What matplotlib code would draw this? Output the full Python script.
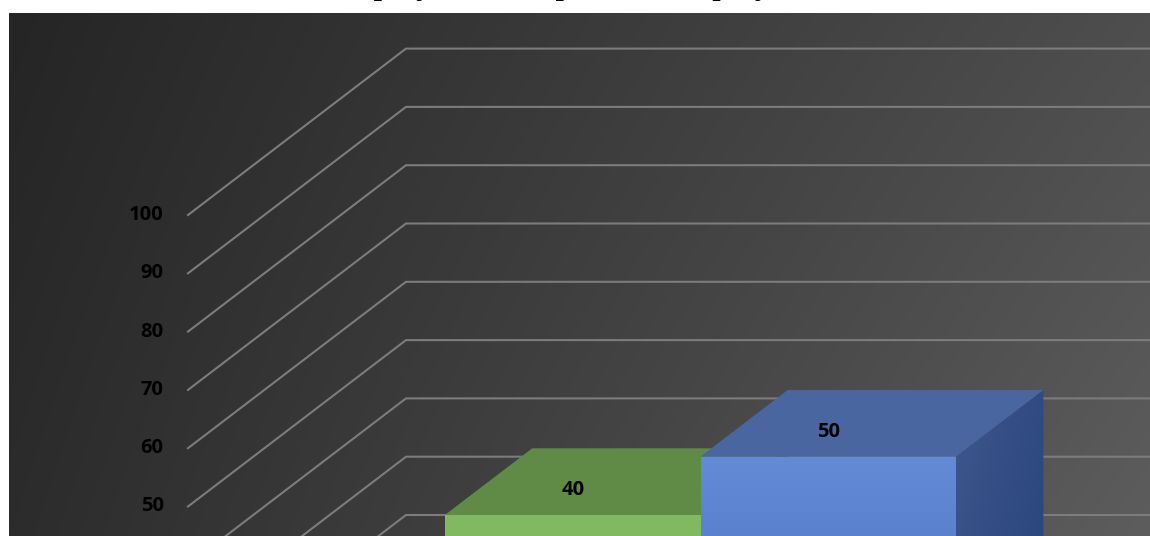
import numpy as np
import matplotlib.pyplot as plt
from matplotlib.patches import Polygon
from matplotlib.colors import to_rgb

# chart data
series = ["Player 1", "Player 2"]
values = [40, 50]
tick_values = list(range(0, 101, 10))
title = "Goals scored: player 1 compared with player 2"

front_colors = ["#80b960", "#5a82cc"]
top_colors = ["#5f8b47", "#4a66a0"]
side_colors = ["#4e7a38", "#34508a"]

W, H = 1150, 536
fig = plt.figure(figsize=(W / 100, H / 100), dpi=100)
fig.patch.set_facecolor("white")

# dark gradient chart area (white strip left and top like the screenshot)
bg = fig.add_axes([9 / W, 0, 1 - 9 / W, (H - 13) / H])
bg.set_axis_off()
yy, xx = np.mgrid[0:1:200j, 0:1:400j]
c = 37 * (1 - xx) * (1 - yy) + 78 * xx * (1 - yy) + 44 * (1 - xx) * yy + 93 * xx * yy
c = c / 255.0
bg.imshow(np.dstack([c, c, c]), aspect="auto", extent=[0, 1, 0, 1], interpolation="bilinear")

# main axes: x in bar widths, y in value units on the front plane
bar_px = 255.5
unit_px = 5.83
wall_x = -1.75          # front edge of side wall (category of 2 bars, gap 150%)
ax = fig.add_axes([0, 0, 1, 1])
ax.set_xlim(wall_x - 188 / bar_px, wall_x + (W - 188) / bar_px)
ax.set_ylim(262 / unit_px, (H + 262) / unit_px)
ax.set_axis_off()
ax.patch.set_alpha(0)

# oblique depth vector (full depth of the floor)
DX = 218 / bar_px
DY = 166.4 / unit_px
f0, f1 = 0.3, 0.7   # bar depth within the floor

label_font = dict(fontsize=14.5, fontweight="bold", family="Open Sans", color="black")


def proj(x, v, f):
    return (x + f * DX, v + f * DY)


# gridlines: side wall diagonal + back wall horizontal
grid_col = "#7c7c7c"
for v in tick_values:
    x0, y0 = proj(wall_x, v, 0)
    x1, y1 = proj(wall_x, v, 1)
    x2, y2 = proj(-wall_x, v, 1)
    ax.plot([x0, x1, x2], [y0, y1, y2], color=grid_col, lw=1.5, solid_joinstyle="miter")
    ax.annotate(str(v), (x0, y0), xytext=(-17.5, 0), textcoords="offset points",
                ha="right", va="center", **label_font)


def grad_fill(poly, c_a, c_b, direction):
    # fill a polygon with a linear gradient through a clipped image
    pts = np.array(poly.get_xy())
    xmin, xmax = pts[:, 0].min(), pts[:, 0].max()
    ymin, ymax = pts[:, 1].min(), pts[:, 1].max()
    gy, gx = np.mgrid[1:0:100j, 0:1:100j]
    if direction == "v":
        t = 1 - gy
    else:
        t = (gx + (1 - gy)) / 2
    a = np.array(to_rgb(c_a))
    b = np.array(to_rgb(c_b))
    img = a[None, None, :] * (1 - t[..., None]) + b[None, None, :] * t[..., None]
    im = ax.imshow(img, extent=[xmin, xmax, ymin, ymax], aspect="auto",
                   interpolation="bilinear", zorder=poly.get_zorder())
    im.set_clip_path(poly)


for i, val in enumerate(values):
    xa = -1 + i
    xb = xa + 1
    side = Polygon([proj(xb, 0, f0), proj(xb, val, f0), proj(xb, val, f1), proj(xb, 0, f1)],
                   closed=True, facecolor=side_colors[i], edgecolor="none", zorder=3 + i * 3)
    front = Polygon([proj(xa, 0, f0), proj(xb, 0, f0), proj(xb, val, f0), proj(xa, val, f0)],
                    closed=True, facecolor=front_colors[i], edgecolor="none", zorder=4 + i * 3)
    top = Polygon([proj(xa, val, f0), proj(xb, val, f0), proj(xb, val, f1), proj(xa, val, f1)],
                  closed=True, facecolor=top_colors[i], edgecolor="none", zorder=5 + i * 3)
    ax.add_patch(side)
    ax.add_patch(front)
    ax.add_patch(top)
    if i == 1:
        grad_fill(front, "#648bd5", "#3a66bb", "v")
        grad_fill(side, "#3f578b", "#22407a", "d")
    lx, ly = proj((xa + xb) / 2, val, f0)
    ax.annotate(str(val), (lx, ly), xytext=(0, 18), textcoords="offset points",
                ha="center", va="center", zorder=20, **label_font)

# slide title, mostly cut off above the picture
fig.text(0.5 - 75 / W, 1 + 7 / H, title, ha="center", va="baseline", fontsize=25,
         family="Liberation Serif", color="black")

fig.savefig("out.png", dpi=100, facecolor=fig.get_facecolor())
